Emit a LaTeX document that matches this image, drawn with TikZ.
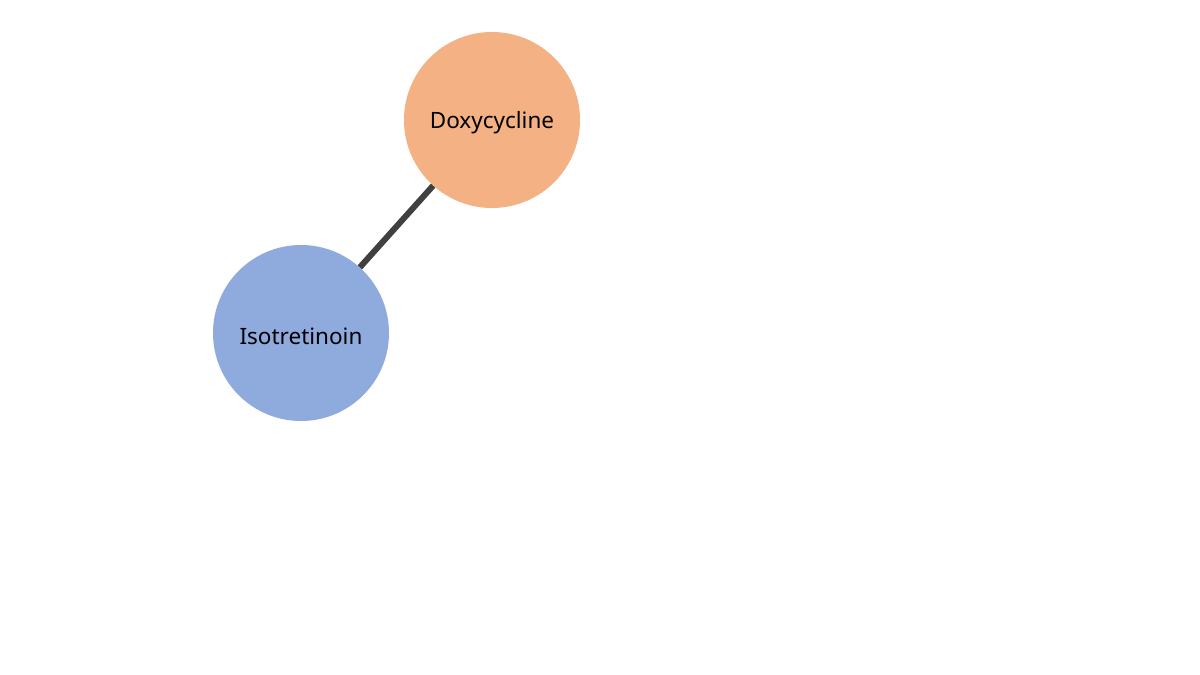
\documentclass[tikz,border=0pt]{standalone}
\usepackage{fontspec}
\setmainfont{Noto Sans}
\definecolor{orangefill}{HTML}{F4B183}
\definecolor{bluefill}{HTML}{8FAADC}
\definecolor{edgegray}{HTML}{404040}
\begin{document}
\begin{tikzpicture}[x=1pt,y=-1pt,
  drug/.style={circle,minimum size=176pt,inner sep=0pt},
  drugtext/.style={font=\fontsize{22.5}{26}\selectfont,yshift=-3pt},
  link/.style={draw=edgegray,line width=6pt}]
\useasboundingbox[fill=white] (0,0) rectangle (1200,675);
\node[drug,fill=orangefill,label={[drugtext]center:Doxycycline}] (doxy) at (492,120) {};
\node[drug,fill=bluefill,label={[drugtext]center:Isotretinoin}] (iso) at (301,333) {};
\draw[link] (doxy) -- (iso);
\end{tikzpicture}
\end{document}
